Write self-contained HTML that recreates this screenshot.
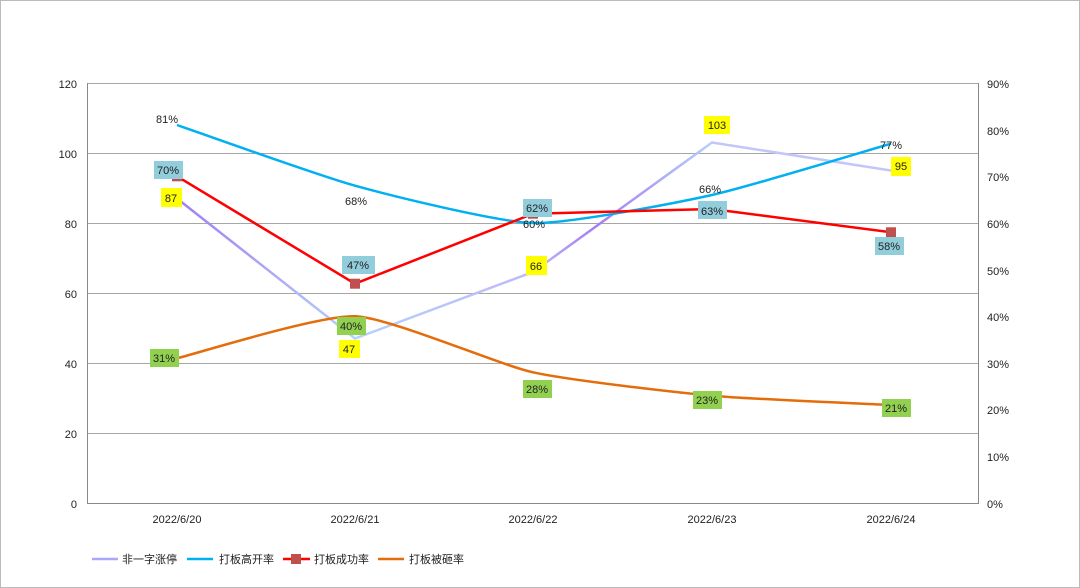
<!DOCTYPE html>
<html><head><meta charset="utf-8"><style>
html,body{margin:0;padding:0;background:#fff}
svg{display:block}
text{font-family:"Liberation Sans","Noto Sans CJK SC",sans-serif;font-size:11px;fill:#222}
</style></head><body>
<svg width="1080" height="588" viewBox="0 0 1080 588" xmlns="http://www.w3.org/2000/svg">
<defs>
<linearGradient id="g1" gradientUnits="userSpaceOnUse" x1="177" y1="0" x2="355" y2="0"><stop offset="0" stop-color="#a47cf4"/><stop offset="1" stop-color="#b4d2fb"/></linearGradient>
<linearGradient id="g2" gradientUnits="userSpaceOnUse" x1="355" y1="0" x2="533" y2="0"><stop offset="0" stop-color="#b4d2fb"/><stop offset="1" stop-color="#c0b8f8"/></linearGradient>
<linearGradient id="g3" gradientUnits="userSpaceOnUse" x1="533" y1="0" x2="712" y2="0"><stop offset="0" stop-color="#c0b8f8"/><stop offset="0.35" stop-color="#a67cf2"/><stop offset="1" stop-color="#b6d0fb"/></linearGradient>
</defs>
<rect x="0.5" y="0.5" width="1079" height="587" fill="#fff" stroke="#bbb"/>
<g stroke="#a6a6a6" stroke-width="1">
<line x1="88" y1="83.5" x2="978" y2="83.5"/>
<line x1="88" y1="153.5" x2="978" y2="153.5"/>
<line x1="88" y1="223.5" x2="978" y2="223.5"/>
<line x1="88" y1="293.5" x2="978" y2="293.5"/>
<line x1="88" y1="363.5" x2="978" y2="363.5"/>
<line x1="88" y1="433.5" x2="978" y2="433.5"/>
<line x1="88" y1="503.5" x2="978" y2="503.5" stroke="#888"/>
<line x1="87.5" y1="83" x2="87.5" y2="504" stroke="#888"/>
<line x1="978.5" y1="83" x2="978.5" y2="504" stroke="#888"/>
</g>
<g text-anchor="end">
<text x="77" y="88">120</text><text x="77" y="158">100</text><text x="77" y="228">80</text>
<text x="77" y="298">60</text><text x="77" y="368">40</text><text x="77" y="438">20</text><text x="77" y="508">0</text>
</g>
<g>
<text x="987" y="88">90%</text><text x="987" y="135">80%</text><text x="987" y="181">70%</text>
<text x="987" y="228">60%</text><text x="987" y="275">50%</text><text x="987" y="321">40%</text>
<text x="987" y="368">30%</text><text x="987" y="414">20%</text><text x="987" y="461">10%</text><text x="987" y="508">0%</text>
</g>
<g text-anchor="middle">
<text x="177" y="523">2022/6/20</text><text x="355" y="523">2022/6/21</text><text x="533" y="523">2022/6/22</text>
<text x="712" y="523">2022/6/23</text><text x="891" y="523">2022/6/24</text>
</g>
<g stroke-width="2.5" fill="none" stroke-linecap="round">
<line x1="177" y1="198.5" x2="355" y2="338.5" stroke="url(#g1)"/>
<line x1="355" y1="338.5" x2="533" y2="272" stroke="url(#g2)"/>
<line x1="533" y1="272" x2="712" y2="142.5" stroke="url(#g3)"/>
<line x1="712" y1="142.5" x2="891" y2="170.5" stroke="#c2c6f8"/>
</g>
<path d="M177,125 C194.8,131.1 319.4,175.9 355,185.7 C390.6,195.5 497.3,222.1 533,223 C568.7,223.9 676.2,202.9 712,195 C747.8,187.1 873.1,148.8 891,143.7" fill="none" stroke="#00b0f0" stroke-width="2.5"/>
<path d="M177,358.3 C194.8,354.1 319.4,314.9 355,316.3 C390.6,317.7 497.3,364.4 533,372.3 C568.7,380.2 676.2,392.4 712,395.7 C747.8,399 873.1,404.1 891,405" fill="none" stroke="#e46c0a" stroke-width="2.5"/>
<polyline points="177,176.3 355,283.7 533,213.7 712,209 891,232.3" fill="none" stroke="#ff0000" stroke-width="2.5"/>
<g fill="#c0504d">
<rect x="172" y="171.3" width="10" height="10"/><rect x="350" y="278.7" width="10" height="10"/>
<rect x="528" y="208.7" width="10" height="10"/><rect x="707" y="204" width="10" height="10"/><rect x="886" y="227.3" width="10" height="10"/>
</g>
<g text-anchor="middle">
<text x="167" y="123">81%</text><text x="356" y="205">68%</text><text x="534" y="228">60%</text>
<text x="710" y="193">66%</text><text x="891" y="149">77%</text>
</g>
<g fill="#92cddc">
<rect x="154" y="161" width="29" height="18"/><rect x="342" y="256" width="33" height="18"/>
<rect x="523" y="199" width="29" height="18"/><rect x="698" y="201" width="29" height="18"/><rect x="875" y="237" width="29" height="18"/>
</g>
<g fill="#ffff00">
<rect x="161" y="188" width="21" height="19"/><rect x="339" y="340" width="21" height="18"/>
<rect x="526" y="256" width="21" height="19"/><rect x="704" y="116" width="26" height="18"/><rect x="891" y="157" width="20" height="19"/>
</g>
<g fill="#92d050">
<rect x="150" y="349" width="29" height="18"/><rect x="337" y="317" width="29" height="18"/>
<rect x="523" y="380" width="29" height="18"/><rect x="693" y="391" width="29" height="18"/><rect x="882" y="399" width="29" height="18"/>
</g>
<g text-anchor="middle">
<text x="168" y="174">70%</text><text x="358" y="269">47%</text><text x="537" y="212">62%</text><text x="712" y="215">63%</text><text x="889" y="250">58%</text>
<text x="171" y="202">87</text><text x="349" y="353">47</text><text x="536" y="270">66</text><text x="717" y="129">103</text><text x="901" y="170">95</text>
<text x="164" y="362">31%</text><text x="351" y="330">40%</text><text x="537" y="393">28%</text><text x="707" y="404">23%</text><text x="896" y="412">21%</text>
</g>
<line x1="92" y1="559" x2="118" y2="559" stroke="#a9a7f9" stroke-width="2.5"/>
<text x="122" y="563">非一字涨停</text>
<line x1="187" y1="559" x2="213" y2="559" stroke="#00b0f0" stroke-width="2.5"/>
<text x="219" y="563">打板高开率</text>
<line x1="283" y1="559" x2="310" y2="559" stroke="#ff0000" stroke-width="2.5"/>
<rect x="291" y="554" width="10" height="10" fill="#c0504d"/>
<text x="314" y="563">打板成功率</text>
<line x1="378" y1="559" x2="404" y2="559" stroke="#e46c0a" stroke-width="2.5"/>
<text x="409" y="563">打板被砸率</text>
</svg>
</body></html>
